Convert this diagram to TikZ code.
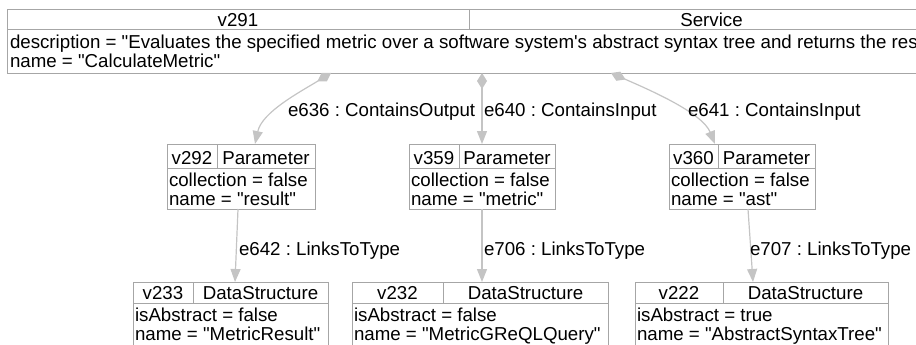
\documentclass[tikz,border=0pt]{standalone}
\usepackage{fontspec}
\setmainfont{Liberation Sans}
\usetikzlibrary{arrows.meta,calc}
\definecolor{boxline}{RGB}{166,166,166}
\definecolor{edgeline}{RGB}{196,196,196}
\newcommand{\qq}{\textquotedbl}
\frenchspacing
\tikzset{
  txt/.style={inner sep=0pt, outer sep=0pt, font=\fontsize{18.7}{20}\selectfont},
  attr/.style={txt, anchor=base west},
  head/.style={txt, anchor=base},
  box/.style={draw=boxline, line width=0.9pt, inner sep=0pt, outer sep=0pt, anchor=north west},
  rule/.style={draw=boxline, line width=0.9pt},
  link/.style={draw=edgeline, line width=1.2pt, -{Triangle[length=13pt,width=10pt]}},
  owns/.style={link, {Diamond[length=16pt,width=10pt]}-{Triangle[length=13pt,width=10pt]}},
  elabel/.style={txt, anchor=base west},
}
\begin{document}
\begin{tikzpicture}[x=1pt,y=-1pt]
\useasboundingbox (0,0) rectangle (916,345);
\clip (0,0) rectangle (916,345);

% service record
\node[box, minimum width=947pt, minimum height=64pt] (v291) at (7,9) {};
\draw[rule] ($(v291.north west)+(0,20)$) -- ($(v291.north east)+(0,20)$);
\draw[rule] ($(v291.north west)+(462,0)$) -- ($(v291.north west)+(462,20)$);
\node[head] (v291id) at (238,26.5) {v291};
\node[head] (v291ty) at (711.5,26.5) {Service};
\node[attr] (v291a) at (10,49) {description = \qq Evaluates the specified metric over a software system\textquotesingle s abstract syntax tree and returns the result\qq};
\node[attr] (v291b) at (10,67) {name = \qq CalculateMetric\qq};

% parameters
\node[box, minimum width=148pt, minimum height=65pt] (v292) at (167,144) {};
\draw[rule] ($(v292.north west)+(0,24)$) -- ($(v292.north east)+(0,24)$);
\draw[rule] ($(v292.north west)+(50,0)$) -- ($(v292.north west)+(50,24)$);
\node[head] (v292id) at (192,164) {v292};
\node[head] (v292ty) at (266,164) {Parameter};
\node[attr] (v292a) at (169,186) {collection = false};
\node[attr] (v292b) at (169,205) {name = \qq result\qq};

\node[box, minimum width=146pt, minimum height=65pt] (v359) at (409,144) {};
\draw[rule] ($(v359.north west)+(0,24)$) -- ($(v359.north east)+(0,24)$);
\draw[rule] ($(v359.north west)+(50,0)$) -- ($(v359.north west)+(50,24)$);
\node[head] (v359id) at (434,164) {v359};
\node[head] (v359ty) at (507,164) {Parameter};
\node[attr] (v359a) at (411,186) {collection = false};
\node[attr] (v359b) at (411,205) {name = \qq metric\qq};

\node[box, minimum width=146pt, minimum height=65pt] (v360) at (669,144) {};
\draw[rule] ($(v360.north west)+(0,24)$) -- ($(v360.north east)+(0,24)$);
\draw[rule] ($(v360.north west)+(49,0)$) -- ($(v360.north west)+(49,24)$);
\node[head] (v360id) at (693.5,164) {v360};
\node[head] (v360ty) at (766.5,164) {Parameter};
\node[attr] (v360a) at (671,186) {collection = false};
\node[attr] (v360b) at (671,205) {name = \qq ast\qq};

% data structures
\node[box, minimum width=195pt, minimum height=90pt] (v233) at (133,282) {};
\draw[rule] ($(v233.north west)+(0,21)$) -- ($(v233.north east)+(0,21)$);
\draw[rule] ($(v233.north west)+(60,0)$) -- ($(v233.north west)+(60,21)$);
\node[head] (v233id) at (163,299.5) {v233};
\node[head] (v233ty) at (260.5,299.5) {DataStructure};
\node[attr] (v233a) at (135,321) {isAbstract = false};
\node[attr] (v233b) at (135,340) {name = \qq MetricResult\qq};

\node[box, minimum width=256pt, minimum height=90pt] (v232) at (352,282) {};
\draw[rule] ($(v232.north west)+(0,21)$) -- ($(v232.north east)+(0,21)$);
\draw[rule] ($(v232.north west)+(91,0)$) -- ($(v232.north west)+(91,21)$);
\node[head] (v232id) at (397.5,299.5) {v232};
\node[head] (v232ty) at (525.5,299.5) {DataStructure};
\node[attr] (v232a) at (354,321) {isAbstract = false};
\node[attr] (v232b) at (354,340) {name = \qq MetricGReQLQuery\qq};

\node[box, minimum width=253pt, minimum height=90pt] (v222) at (635,282) {};
\draw[rule] ($(v222.north west)+(0,21)$) -- ($(v222.north east)+(0,21)$);
\draw[rule] ($(v222.north west)+(88,0)$) -- ($(v222.north west)+(88,21)$);
\node[head] (v222id) at (679,299.5) {v222};
\node[head] (v222ty) at (805.5,299.5) {DataStructure};
\node[attr] (v222a) at (637,321) {isAbstract = true};
\node[attr] (v222b) at (637,340) {name = \qq AbstractSyntaxTree\qq};

% containment edges
\draw[owns] ($(v291.south west)+(324,0)$) .. controls (300,92) and (262,112) .. ($(v292.north west)+(88,0)$);
\draw[owns] ($(v291.south west)+(475,0)$) -- ($(v359.north west)+(73,0)$);
\draw[owns] ($(v291.south west)+(604,0)$) .. controls (645,88) and (702,112) .. ($(v360.north west)+(46,0)$);
\node[elabel] (e636) at (288,116) {e636 : ContainsOutput};
\node[elabel] (e640) at (484,116) {e640 : ContainsInput};
\node[elabel] (e641) at (688,116) {e641 : ContainsInput};

% type links
\draw[link] ($(v292.south west)+(71,0)$) -- ($(v233.north west)+(102,0)$);
\draw[link] ($(v359.south west)+(73,0)$) -- ($(v232.north west)+(130,0)$);
\draw[link] ($(v360.south west)+(79,0)$) -- ($(v222.north west)+(118,0)$);
\node[elabel] (e642) at (239,255) {e642 : LinksToType};
\node[elabel] (e706) at (484,255) {e706 : LinksToType};
\node[elabel] (e707) at (750,255) {e707 : LinksToType};
\end{tikzpicture}
\end{document}
